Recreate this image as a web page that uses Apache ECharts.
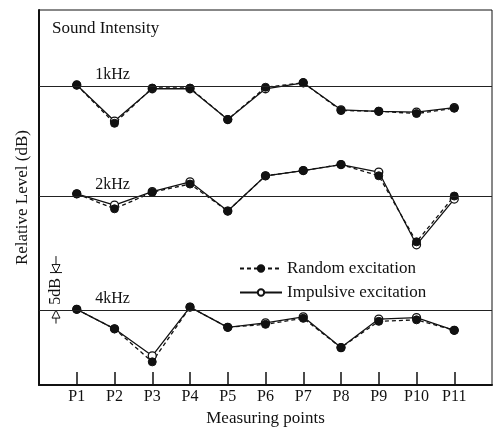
<!DOCTYPE html>
<html>
<head>
<meta charset="utf-8">
<script src="https://cdn.jsdelivr.net/npm/echarts@6/dist/echarts.min.js"></script>
<style>
  html, body { margin: 0; padding: 0; background: #fff; }
  #chart { width: 494px; height: 432px; }
</style>
</head>
<body>
<div id="chart"></div>
<script>
// measuring points
const points = ['P1', 'P2', 'P3', 'P4', 'P5', 'P6', 'P7', 'P8', 'P9', 'P10', 'P11'];

// relative level (dB), bands stacked with offsets on one axis
const bands = ['1kHz', '2kHz', '4kHz'];
const baselines = [29.9, 15.2, 0];

const random1k = [30.0, 24.9, 29.6, 29.6, 25.4, 29.7, 30.3, 26.6, 26.5, 26.2, 26.9];
const impulse1k = [30.0, 25.2, 29.5, 29.5, 25.4, 29.5, 30.3, 26.7, 26.5, 26.4, 27.0];

const random2k = [15.5, 13.5, 15.7, 16.8, 13.2, 17.9, 18.6, 19.4, 17.9, 9.1, 15.2];
const impulse2k = [15.5, 14.0, 15.8, 17.1, 13.2, 17.9, 18.6, 19.4, 18.4, 8.7, 14.8];

const random4k = [0.1, -2.5, -6.9, 0.4, -2.3, -1.9, -1.1, -5.0, -1.5, -1.3, -2.7];
const impulse4k = [0.1, -2.5, -6.1, 0.4, -2.3, -1.7, -0.9, -5.0, -1.2, -1.0, -2.7];

const font = 'Liberation Serif';
const pointIdx = points.map((p, i) => i + 1);

function toPairs(vals) {
    return vals.map((v, i) => [i + 1, v]);
}

function makeSeries(name, vals, dashed, baseline) {
    const s = {
        name: name,
        type: 'line',
        data: toPairs(vals),
        symbol: 'circle',
        symbolSize: 8,
        showAllSymbol: true,
        lineStyle: { color: '#111', width: 1.3, type: dashed ? [4, 3] : 'solid' },
        itemStyle: dashed
            ? { color: '#111', borderColor: '#111', borderWidth: 1 }
            : { color: '#fff', borderColor: '#111', borderWidth: 1.3 },
        emphasis: { disabled: true },
        animation: false
    };
    if (baseline !== undefined) {
        s.markLine = {
            silent: true,
            symbol: 'none',
            label: { show: false },
            lineStyle: { color: '#222', width: 1, type: 'solid' },
            data: [{ yAxis: baseline }]
        };
    }
    return s;
}

const chart = echarts.init(document.getElementById('chart'));

const option = {
    backgroundColor: '#fff',
    animation: false,
    title: {
        text: 'Sound Intensity',
        left: 47,
        top: 15,
        textStyle: { fontFamily: font, fontSize: 17, fontWeight: 'normal', color: '#111' }
    },
    legend: {
        data: ['Random excitation', 'Impulsive excitation'],
        orient: 'vertical',
        left: 234,
        top: 255,
        itemWidth: 42,
        itemHeight: 8,
        itemGap: 7,
        textStyle: { fontFamily: font, fontSize: 17, color: '#111' }
    },
    grid: {
        left: 39,
        right: 2,
        top: 10,
        bottom: 45,
        show: true,
        borderColor: '#111',
        borderWidth: 1
    },
    xAxis: {
        type: 'value',
        min: 0,
        max: 12,
        interval: 1,
        name: 'Measuring points',
        nameLocation: 'middle',
        nameGap: 23,
        nameTextStyle: { fontFamily: font, fontSize: 17, color: '#111' },
        axisLine: { onZero: false, lineStyle: { color: '#111', width: 2 } },
        axisTick: {
            inside: true,
            length: 13,
            customValues: pointIdx,
            lineStyle: { color: '#111', width: 1.5 }
        },
        axisLabel: {
            margin: 4,
            fontFamily: font,
            fontSize: 16,
            color: '#111',
            customValues: pointIdx,
            formatter: (v) => points[v - 1] || ''
        },
        splitLine: { show: false }
    },
    yAxis: {
        type: 'value',
        min: -10,
        max: 40,
        name: 'Relative Level (dB)',
        nameLocation: 'middle',
        nameGap: 8,
        nameTextStyle: { fontFamily: font, fontSize: 17, color: '#111' },
        axisLine: { show: true, onZero: false, lineStyle: { color: '#111', width: 2 } },
        axisTick: { show: false },
        axisLabel: { show: false },
        splitLine: { show: false }
    },
    series: [
        makeSeries('Impulsive excitation', impulse1k, false, baselines[0]),
        makeSeries('Random excitation', random1k, true),
        makeSeries('Impulsive excitation', impulse2k, false, baselines[1]),
        makeSeries('Random excitation', random2k, true),
        makeSeries('Impulsive excitation', impulse4k, false, baselines[2]),
        makeSeries('Random excitation', random4k, true)
    ]
};

chart.setOption(option);

// band labels and the 5 dB scale marker, placed through the axes
const px = (x, y) => chart.convertToPixel({ gridIndex: 0 }, [x, y]);
const graphics = [];
bands.forEach((b, i) => {
    const p = px(1.95, baselines[i]);
    graphics.push({
        type: 'text',
        x: p[0],
        y: p[1] - 3,
        style: {
            text: b,
            font: '16px "' + font + '"',
            fill: '#111',
            textAlign: 'center',
            textVerticalAlign: 'bottom'
        }
    });
});

const s0 = px(0.45, 0);
const s5 = px(0.45, 5);
const below = px(0.45, -1.8);
const above = px(0.45, 7.2);
const ax = s0[0];
graphics.push(
    { type: 'line', shape: { x1: ax, y1: below[1], x2: ax, y2: s0[1] + 5 }, style: { stroke: '#111', lineWidth: 1 } },
    { type: 'polygon', shape: { points: [[ax, s0[1]], [ax - 4, s0[1] + 8], [ax + 4, s0[1] + 8]] }, style: { fill: '#fff', stroke: '#111', lineWidth: 1 } },
    { type: 'line', shape: { x1: ax, y1: above[1], x2: ax, y2: s5[1] - 5 }, style: { stroke: '#111', lineWidth: 1 } },
    { type: 'polygon', shape: { points: [[ax, s5[1]], [ax - 4, s5[1] - 8], [ax + 4, s5[1] - 8]] }, style: { fill: '#fff', stroke: '#111', lineWidth: 1 } },
    { type: 'line', shape: { x1: ax - 6, y1: s5[1], x2: ax + 6, y2: s5[1] }, style: { stroke: '#111', lineWidth: 1 } },
    {
        type: 'text',
        x: ax,
        y: (s0[1] + s5[1]) / 2,
        rotation: Math.PI / 2,
        style: {
            text: '5dB',
            font: '16px "' + font + '"',
            fill: '#111',
            textAlign: 'center',
            textVerticalAlign: 'middle'
        }
    }
);
chart.setOption({ graphic: graphics });
</script>
</body>
</html>
